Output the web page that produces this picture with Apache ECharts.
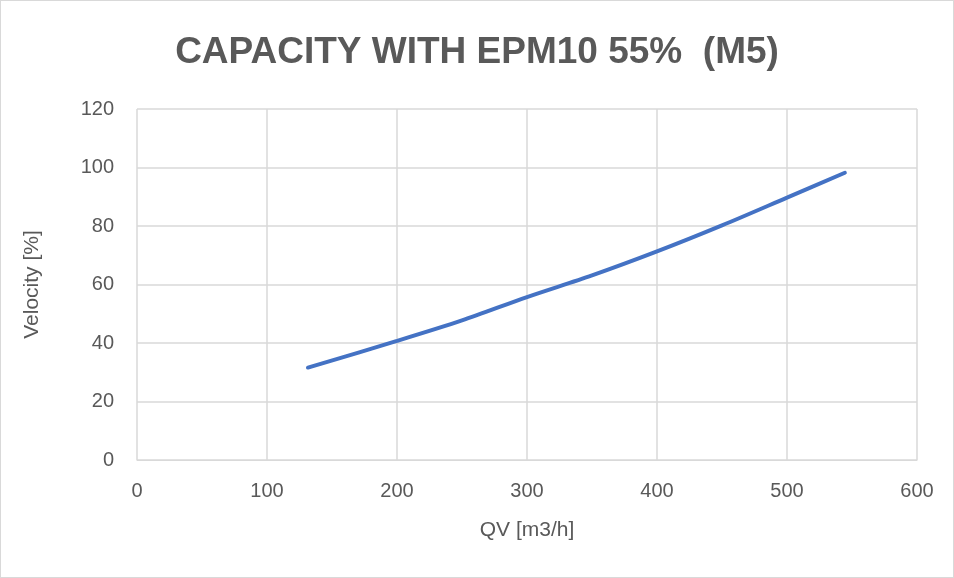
<!DOCTYPE html>
<html>
<head>
<meta charset="utf-8">
<script src="https://cdn.jsdelivr.net/npm/echarts@6/dist/echarts.min.js"></script>
<style>
  html, body { margin: 0; padding: 0; background: #fff; }
  #chart { width: 954px; height: 578px; box-sizing: border-box; border: 1px solid #d9d9d9; }
</style>
</head>
<body>
<div id="chart"></div>
<script>
  // values
  var qv = [131.5, 200, 250, 300, 350, 400, 450, 500, 544.5];
  var velocity = [31.6, 40.7, 47.7, 55.7, 63.1, 71.3, 80.2, 89.7, 98.2];
  var xTicks = {min: 0, max: 600, interval: 100};
  var yTicks = {min: 0, max: 120, interval: 20};

  var fontFamily = '"Liberation Sans", sans-serif';
  var chart = echarts.init(document.getElementById('chart'));
  var option = {
    animation: false,
    title: {
      text: 'CAPACITY WITH EPM10 55%  (M5)',
      left: 'center',
      top: 28,
      textStyle: {
        fontFamily: fontFamily,
        fontWeight: 'bold',
        fontSize: 37,
        color: '#595959',
      },
    },
    grid: {
      left: 136,
      right: 36,
      top: 108,
      bottom: 117,
    },
    xAxis: {
      type: 'value',
      min: xTicks.min,
      max: xTicks.max,
      interval: xTicks.interval,
      name: 'QV [m3/h]',
      nameLocation: 'middle',
      nameGap: 60,
      nameTextStyle: {fontFamily: fontFamily, fontSize: 21, color: '#595959'},
      axisLine: {show: true, lineStyle: {color: '#d9d9d9', width: 1}},
      axisTick: {show: false},
      axisLabel: {fontFamily: fontFamily, fontSize: 20, color: '#595959', margin: 21},
      splitLine: {show: true, lineStyle: {color: '#d9d9d9', width: 1.5}},
    },
    yAxis: {
      type: 'value',
      min: yTicks.min,
      max: yTicks.max,
      interval: yTicks.interval,
      name: 'Velocity [%]',
      nameLocation: 'middle',
      nameGap: 94,
      nameRotate: 90,
      nameTextStyle: {fontFamily: fontFamily, fontSize: 21, color: '#595959'},
      axisLine: {show: false},
      axisTick: {show: false},
      axisLabel: {fontFamily: fontFamily, fontSize: 20, color: '#595959', margin: 23},
      splitLine: {show: true, lineStyle: {color: '#d9d9d9', width: 1.5}},
    },
    series: [{
      type: 'line',
      data: qv.map(function (x, i) { return [x, velocity[i]]; }),
      smooth: 0.3,
      showSymbol: false,
      lineStyle: {color: '#4472c4', width: 4, cap: 'round'},
    }],
  };
  chart.setOption(option);
</script>
</body>
</html>
